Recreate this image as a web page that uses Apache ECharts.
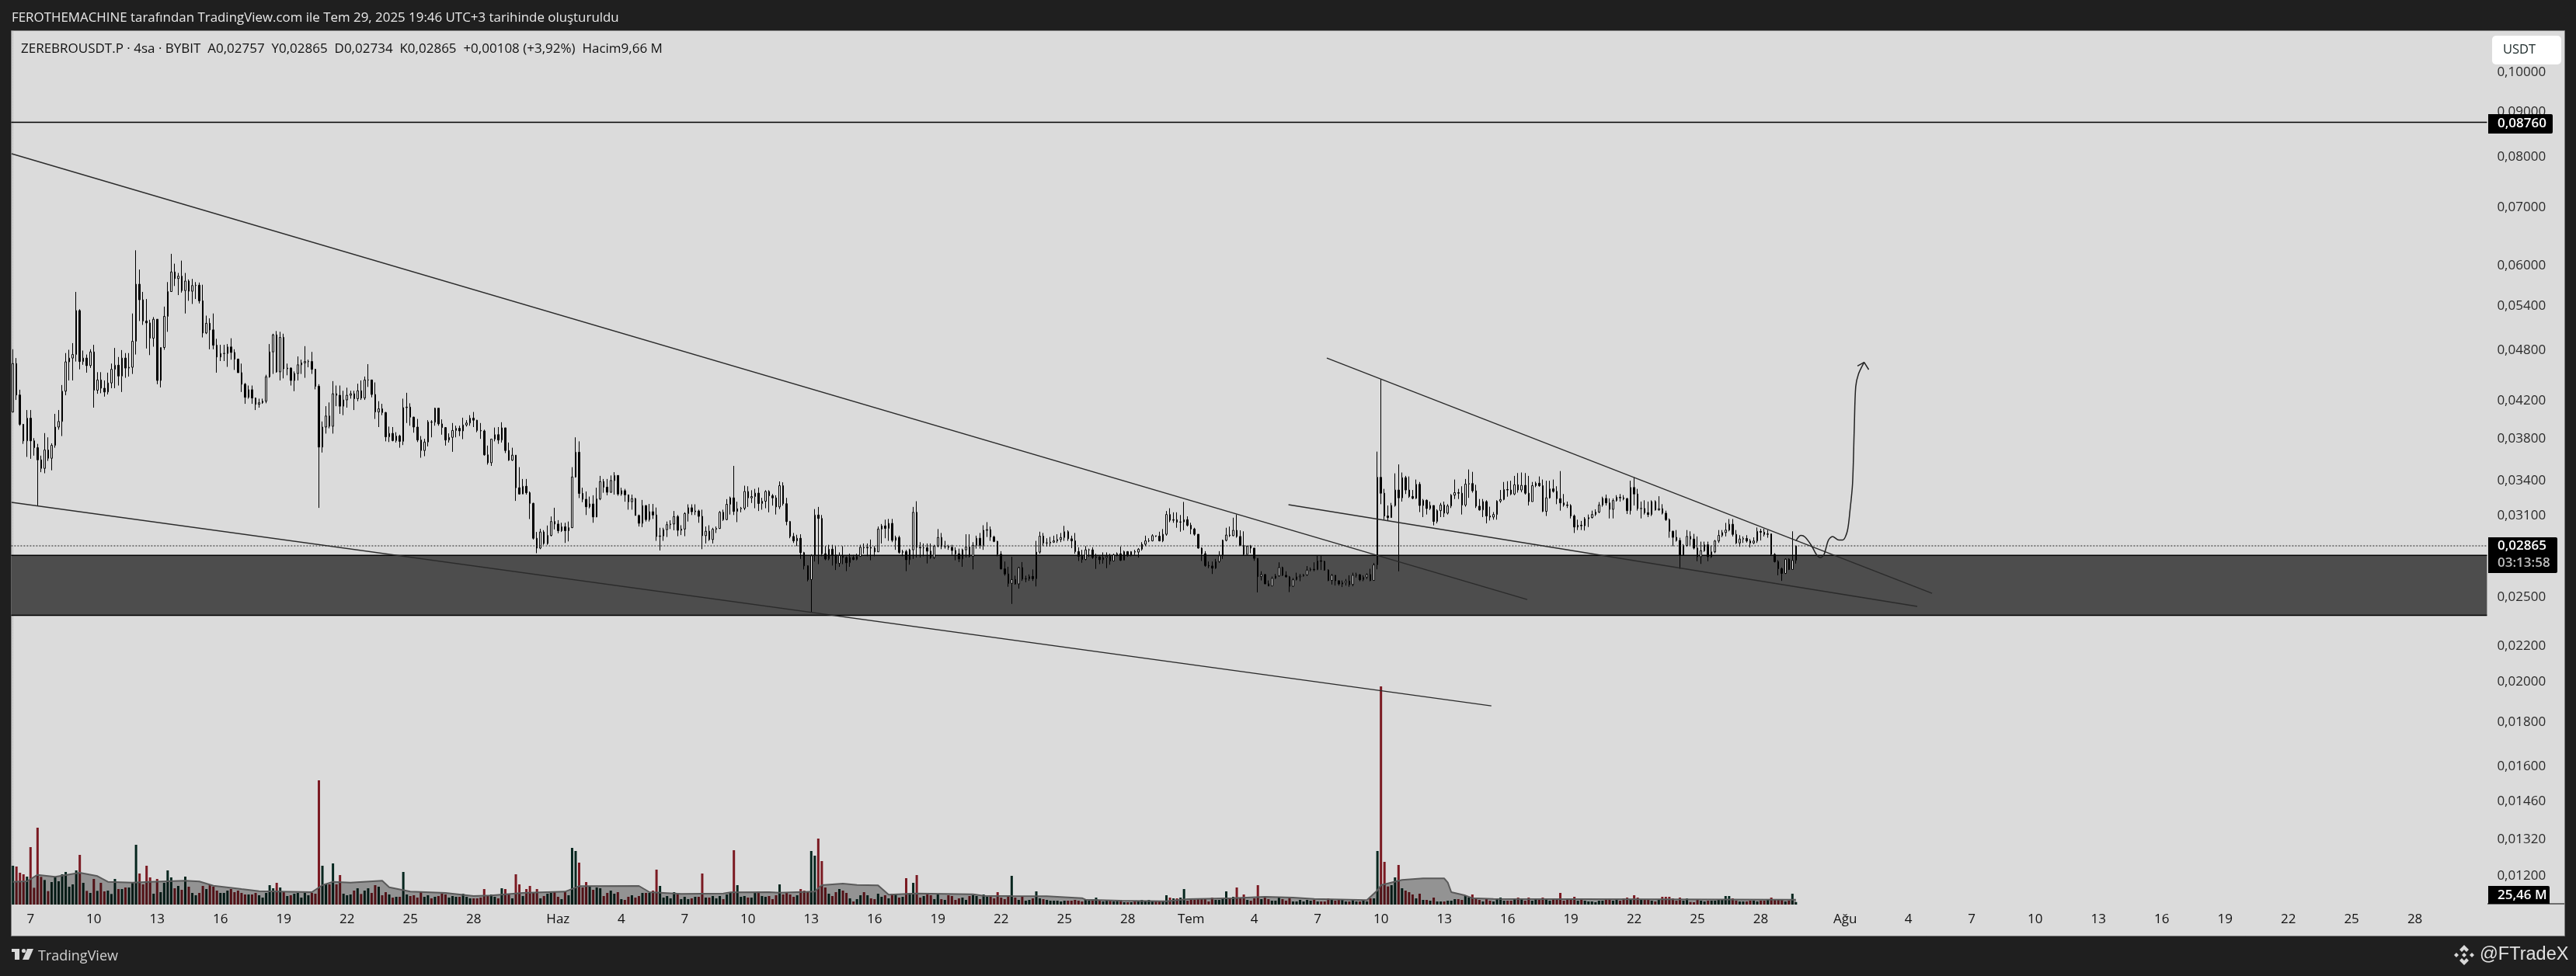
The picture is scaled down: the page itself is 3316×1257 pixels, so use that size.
<!DOCTYPE html>
<html><head><meta charset="utf-8"><style>html,body{margin:0;padding:0;background:#1f1f1f}#c{width:3316px;height:1257px}</style>
<script src="https://cdn.jsdelivr.net/npm/echarts@6/dist/echarts.min.js"></script></head><body><div id="c"></div>
<script>
// prices in units of 0.00001 USDT, volumes in millions
const firstOpen = 4079;
const closes = [
4635,4266,3948,3780,4013,3780,3712,3595,3515,3690,
3610,3735,3920,3978,4309,4656,4703,4747,5331,4660,
4703,4610,4780,4320,4439,4343,4300,4404,4565,4615,
4485,4703,4580,4590,4916,5715,5485,5186,5160,4956,
5210,4433,4836,5250,5605,5903,5800,5837,5620,5763,
5610,5695,5700,5470,5025,5155,5066,4865,4716,4760,
4760,4843,4773,4690,4525,4389,4240,4326,4232,4163,
4180,4197,4476,4780,5000,4534,4966,4572,4580,4433,
4515,4620,4644,4660,4660,4565,4365,3718,3920,4036,
3928,4280,4263,4142,4211,4263,4280,4225,4314,4232,
4439,4439,4272,4079,4113,4073,3820,3855,3783,3828,
3775,4126,4132,4024,3920,3788,3685,3768,3973,3970,
4120,3953,3915,3788,3815,3885,3907,3880,3942,3962,
4013,3992,3885,3880,3643,3568,3797,3842,3788,3912,
3685,3592,3640,3340,3285,3353,3296,3205,2923,2848,
2972,2883,2945,3055,3035,2982,3013,2982,3006,3436,
3668,3290,3240,3176,3200,3092,3243,3395,3345,3300,
3404,3450,3285,3314,3278,3219,3245,3104,3041,3186,
3071,3135,3108,2937,2941,2990,3030,3035,3095,2985,
2995,3120,3168,3135,3141,3097,2943,2978,2913,2993,
3000,3130,3071,3197,3252,3138,3160,3164,3307,3252,
3263,3293,3204,3223,3307,3270,3252,3175,3358,3202,
3055,2937,2903,2923,2814,2718,2621,2791,3108,3080,
2806,2768,2840,2797,2735,2793,2778,2740,2778,2764,
2787,2854,2850,2854,2848,2820,2995,3020,3000,3040,
2907,2929,2816,2822,2762,2835,3130,2854,2850,2850,
2825,2778,2863,2929,2860,2860,2854,2830,2806,2768,
2835,2856,2787,2869,2923,2869,2985,2990,2933,2899,
2802,2696,2660,2595,2621,2591,2705,2625,2627,2643,
2627,2818,2939,2887,2887,2893,2903,2913,2929,2974,
2919,2903,2822,2787,2764,2835,2835,2778,2783,2762,
2778,2787,2753,2797,2806,2758,2822,2791,2822,2818,
2840,2877,2903,2903,2943,2939,2903,2954,3112,3065,
3070,3050,3052,3070,3025,2995,2954,2848,2806,2720,
2717,2701,2749,2791,2907,2948,2943,2985,2937,2869,
2801,2862,2848,2772,2642,2656,2592,2577,2630,2646,
2706,2651,2640,2575,2620,2640,2646,2654,2688,2693,
2690,2754,2750,2688,2615,2651,2613,2591,2600,2610,
2587,2651,2654,2620,2638,2656,2615,2725,3433,3292,
3100,3087,3187,3320,3252,3430,3320,3264,3248,3370,
3187,3231,3162,3187,3056,3144,3191,3123,3183,3275,
3297,3292,3191,3372,3377,3313,3181,3150,3220,3100,
3091,3112,3224,3238,3324,3320,3285,3366,3320,3361,
3292,3220,3358,3380,3358,3138,3252,3330,3308,3245,
3209,3191,3187,3100,3011,3025,3021,3077,3087,3112,
3132,3191,3247,3209,3155,3229,3257,3252,3245,3144,
3342,3285,3162,3162,3127,3112,3220,3150,3160,3123,
3070,2977,2930,2906,2796,2868,2937,2917,2848,2784,
2829,2873,2784,2820,2902,2945,2967,2987,3033,2953,
2887,2917,2921,2902,2887,2902,2977,2970,2953,2957,
2801,2748,2697,2664,2766,2692,2757,2865];
const highs = [
4813,4703,4326,3953,4100,4100,3807,3750,3635,3858,
3815,3755,4059,4100,4380,4765,4807,4892,5600,5350,
4797,4747,4813,4870,4531,4531,4433,4525,4635,4830,
4716,4803,4765,4765,5290,6250,5940,5600,5496,5203,
5240,5210,4836,5387,5747,6192,6033,5887,6082,5887,
5787,5795,5747,5740,5707,5260,5223,5290,4948,4870,
4870,4880,4955,4813,4696,4635,4404,4374,4374,4238,
4225,4225,4500,4880,5015,5050,5040,5015,4635,4590,
4540,4723,4683,4853,4683,4780,4572,4389,3978,4142,
4183,4425,4374,4374,4314,4349,4314,4314,4395,4433,
4479,4628,4433,4410,4197,4168,4079,3925,3920,3867,
3842,4225,4291,4174,4029,4005,3828,3800,3992,3992,
4126,4120,4000,3920,3855,3962,3934,3934,4018,3992,
4045,4079,3995,3962,3893,3733,3800,3915,3920,3970,
3912,3763,3712,3640,3526,3418,3418,3307,3210,2972,
2997,2986,3023,3096,3168,3066,3045,3045,3055,3526,
3815,3775,3340,3307,3263,3274,3340,3446,3418,3418,
3450,3480,3450,3340,3330,3280,3280,3252,3112,3234,
3190,3200,3200,3170,3005,3005,3055,3065,3141,3108,
3025,3130,3197,3197,3197,3152,3152,3015,3025,3005,
3015,3141,3152,3241,3263,3538,3219,3175,3358,3353,
3318,3330,3342,3252,3318,3318,3285,3274,3396,3388,
3252,3060,2964,2950,2954,2820,2722,2802,3157,3175,
3108,2863,2873,2873,2863,2816,2863,2787,2806,2797,
2806,2873,2883,2883,2913,2863,3015,3035,3070,3076,
3076,2943,2943,2835,2835,2844,3175,3223,2893,2883,
2883,2883,2873,2995,2964,2903,2873,2873,2854,2844,
2844,2954,2954,2893,2943,2964,3025,3050,3015,2943,
2903,2825,2749,2711,2783,2648,2711,2745,2648,2657,
2692,2903,2974,2964,2923,2933,2943,2954,2964,3020,
2985,2943,2964,2854,2835,2863,2844,2854,2806,2787,
2816,2816,2806,2806,2816,2860,2829,2825,2825,2835,
2848,2893,2943,2923,2954,2943,2974,2995,3141,3164,
3130,3130,3108,3217,3097,3045,3005,2954,2854,2825,
2749,2749,2768,2825,2913,3005,3015,3086,3112,2985,
2977,2868,2872,2840,2772,2679,2660,2615,2642,2660,
2743,2712,2679,2646,2632,2669,2660,2660,2716,2706,
2743,2793,2790,2754,2693,2660,2632,2615,2615,2625,
2651,2669,2669,2660,2651,2664,2697,2738,3674,4446,
3330,3187,3209,3469,3552,3477,3446,3441,3320,3413,
3391,3242,3238,3220,3187,3155,3209,3220,3198,3285,
3413,3330,3353,3418,3505,3483,3366,3242,3242,3231,
3177,3132,3231,3320,3391,3398,3402,3446,3472,3477,
3472,3446,3391,3394,3441,3413,3402,3402,3413,3353,
3490,3285,3220,3198,3112,3070,3060,3091,3112,3144,
3155,3216,3262,3280,3247,3247,3275,3285,3275,3252,
3402,3433,3330,3220,3231,3220,3231,3231,3266,3198,
3144,3080,2983,2987,2927,2878,2987,2977,2957,2937,
2897,2897,2897,2868,2910,2987,2987,3044,3075,3075,
2987,2947,2937,2947,2917,2930,3007,2997,2997,2987,
2957,2810,2759,2706,2772,2772,2977,2865];
const lows = [
4073,4211,3934,3750,3623,3605,3635,3185,3480,3470,
3585,3497,3712,3893,3828,4263,4433,4433,4660,4565,
4620,4525,4582,4126,4280,4286,4248,4272,4343,4343,
4374,4300,4464,4479,4510,4747,5186,5133,4823,4740,
4846,4389,4352,4807,5040,5600,5688,5553,5590,5290,
5470,5425,5496,5432,4966,5010,4813,4813,4525,4666,
4666,4595,4683,4558,4525,4300,4168,4225,4168,4100,
4126,4168,4174,4464,4510,4525,4433,4457,4494,4374,
4309,4433,4510,4464,4590,4510,4330,3167,3665,3853,
3907,3853,4142,4059,4045,4126,4225,4100,4197,4211,
4211,4358,4240,4005,3920,4045,3775,3768,3775,3763,
3712,3738,3962,3934,3862,3768,3615,3630,3725,3815,
3934,3934,3842,3733,3763,3672,3815,3828,3797,3925,
3934,3920,3867,3800,3635,3550,3538,3775,3750,3763,
3660,3585,3585,3226,3280,3285,3280,3075,2913,2810,
2840,2873,2873,2937,2992,2962,2972,2887,2899,3002,
3430,3250,3215,3108,3163,3045,3090,3232,3296,3274,
3296,3280,3270,3270,3219,3152,3152,3104,3015,3010,
3055,3055,3076,2903,2830,2903,2933,2995,2985,2939,
2948,2939,3055,3108,3108,3045,2840,2883,2903,2883,
2964,2995,3060,3065,3112,3108,3050,3130,3148,3175,
3208,3164,3141,3152,3164,3130,3186,3112,3157,3186,
3025,2923,2887,2863,2768,2692,2609,2407,2749,2730,
2787,2758,2758,2720,2688,2711,2730,2680,2711,2758,
2758,2783,2806,2787,2758,2787,2820,2883,2923,2903,
2893,2835,2806,2787,2680,2726,2768,2778,2778,2787,
2735,2768,2768,2854,2840,2844,2835,2797,2758,2745,
2711,2778,2778,2692,2844,2844,2835,2933,2903,2893,
2787,2692,2648,2572,2458,2586,2559,2612,2603,2612,
2612,2574,2806,2863,2860,2860,2887,2887,2893,2903,
2903,2848,2806,2753,2740,2758,2783,2768,2696,2730,
2734,2701,2726,2753,2787,2753,2758,2783,2787,2797,
2778,2829,2863,2893,2899,2933,2899,2893,2943,3050,
3045,3005,2974,2985,3015,2954,2943,2844,2753,2711,
2701,2660,2696,2740,2768,2899,2933,2939,2927,2863,
2790,2801,2810,2754,2534,2615,2589,2577,2577,2625,
2642,2646,2635,2536,2572,2615,2610,2642,2646,2679,
2679,2688,2688,2683,2610,2587,2580,2580,2570,2580,
2572,2575,2635,2610,2610,2625,2610,2615,2693,3198,
3070,3063,3085,3177,2679,3220,3285,3252,3240,3242,
3132,3091,3112,3150,3024,3040,3091,3091,3112,3166,
3242,3242,3112,3177,3252,3297,3166,3144,3091,3040,
3063,3070,3070,3209,3231,3262,3275,3275,3297,3300,
3280,3187,3220,3345,3348,3132,3100,3245,3297,3198,
3144,3177,3166,3080,2964,2987,2987,2983,3011,3080,
3100,3123,3177,3187,3080,3080,3220,3220,3231,3116,
3112,3187,3144,3080,3112,3091,3100,3144,3144,3112,
3060,2927,2862,2897,2697,2790,2858,2868,2838,2751,
2732,2820,2751,2775,2810,2887,2932,2937,2977,2937,
2878,2858,2887,2890,2852,2878,2887,2906,2937,2927,
2790,2742,2651,2612,2660,2688,2693,2734];
const volumes = [
150,147,123,117,108,222,65,297,107,95,
52,87,105,90,117,126,69,78,132,192,
84,53,45,99,53,84,51,54,41,99,
60,60,66,66,87,231,120,78,150,105,
42,99,48,84,132,105,63,72,57,108,
69,45,36,45,72,60,77,69,54,45,
45,54,60,48,54,45,39,39,39,45,
36,27,45,75,63,84,66,51,33,36,
42,45,27,45,36,45,42,480,150,78,
78,159,78,114,42,36,39,54,63,41,
54,63,45,75,69,36,48,39,27,30,
30,126,39,33,36,27,51,30,36,24,
30,33,42,39,27,33,30,30,42,30,
24,24,24,27,60,36,39,30,24,63,
60,39,24,117,78,33,60,72,48,60,
24,33,42,45,48,30,21,48,36,219,
207,162,66,87,72,57,66,63,33,45,
54,42,48,21,18,30,36,27,33,45,
45,45,54,135,72,27,33,24,48,39,
21,30,21,24,30,30,120,27,27,33,
24,33,21,39,45,210,75,30,33,27,
27,45,51,33,30,33,21,36,78,39,
45,39,30,36,60,54,51,207,189,255,
168,66,42,33,48,60,54,45,24,12,
21,36,48,36,24,21,42,30,36,24,
42,42,27,30,102,45,84,114,27,33,
39,36,21,42,21,18,36,33,18,24,
27,18,33,36,33,21,39,30,30,24,
48,27,21,30,111,27,18,30,15,18,
24,51,24,21,18,15,15,15,12,15,
15,15,18,15,12,18,15,15,27,15,
12,15,15,12,18,18,9,9,9,12,
12,18,12,18,12,12,12,12,36,27,
24,24,27,60,15,18,18,21,24,21,
12,27,18,18,21,51,24,30,66,27,
39,18,15,24,75,21,30,21,15,15,
27,21,15,24,12,12,18,12,18,15,
18,12,12,12,24,21,15,21,18,12,
12,21,12,12,15,12,24,24,207,843,
165,70,75,105,153,63,54,48,39,24,
42,18,18,15,27,12,12,12,15,15,
21,21,18,33,27,39,24,18,12,21,
15,12,21,27,15,15,15,21,27,24,
15,27,15,24,18,27,24,15,21,21,
45,15,21,18,30,15,18,15,12,12,
9,15,15,18,21,15,18,15,24,27,
18,36,27,20,18,18,15,12,18,30,
30,30,24,15,27,15,24,10,9,21,
15,12,15,15,15,18,18,33,33,24,
15,12,12,12,15,15,12,15,15,18,
27,21,18,18,12,15,42,9.66];
// grey volume average: [bar number, value]
const volumeAverage = [[0,88],[4,90],[7,115],[12,107],[19,123],[24,110],[27,88],[34,85],[39,88],[49,92],[53,89],[57,73],[65,60],[70,52],[85,48],[88,75],[91,88],[96,85],[105,92],[107,67],[113,50],[123,45],[131,33],[136,35],[145,45],[157,50],[161,71],[178,72],[181,48],[190,41],[202,43],[204,47],[215,48],[218,46],[228,50],[230,75],[236,81],[240,76],[246,74],[249,38],[257,43],[273,40],[276,34],[284,33],[294,32],[304,25],[305,19],[315,15],[328,13],[334,21],[347,25],[356,30],[364,27],[370,22],[385,17],[388,55],[389,75],[395,95],[401,101],[407,101],[408,85],[409,48],[413,35],[415,25],[421,22],[470,20],[506,19],[507,19]];
const priceTicks = [0.1,0.09,0.08,0.07,0.06,0.054,0.048,0.042,0.038,0.034,0.031,0.025,0.022,0.02,0.018,0.016,0.0146,0.0132,0.012];
const tickDates = ["05-07","05-10","05-13","05-16","05-19","05-22","05-25","05-28","06-01","06-04","06-07","06-10","06-13","06-16","06-19","06-22","06-25","06-28","07-01","07-04","07-07","07-10","07-13","07-16","07-19","07-22","07-25","07-28","08-01","08-04","08-07","08-10","08-13","08-16","08-19","08-22","08-25","08-28"];
const tickLabels = ["7","10","13","16","19","22","25","28","Haz","4","7","10","13","16","19","22","25","28","Tem","4","7","10","13","16","19","22","25","28","Ağu","4","7","10","13","16","19","22","25","28"];
const resistance = 0.0876;
const lastPrice = 0.02865;
const zoneHigh = 0.02794, zoneLow = 0.02385;
const trendA = [[-0.37,0.08064],[430.6,0.02487]];
const trendB = [[-0.37,0.03213],[420.4,0.01878]];
const trendC = [[373.6,0.04704],[545.7,0.02528]];
const trendD = [[362.7,0.03194],[541.5,0.02442]];
const projection = [[507,0.02903],[508.4,0.02945],[509.6,0.02932],[511.4,0.02868],[512.8,0.02801],[514,0.02777],[515,0.02801],[516.2,0.02906],[517.4,0.02937],[519.2,0.02910],[520.3,0.02910],[521.6,0.02977],[522.4,0.03154],[523.1,0.03377],[523.6,0.03923],[524,0.04360],[524.8,0.04510],[526.4,0.04650]];
const arrowHead = [[524.5,0.04605],[526.4,0.04650],[527.7,0.04562]];

const SLOTS = 704;
const categories = [];
{ const t0 = Date.UTC(2025,4,6,4);
  for (let i=0;i<SLOTS;i++){ const d=new Date(t0+i*4*3600e3);
    const p=n=>String(n).padStart(2,'0');
    const h=d.getUTCHours();
    categories.push(h===0 ? p(d.getUTCMonth()+1)+'-'+p(d.getUTCDate()) : p(d.getUTCMonth()+1)+'-'+p(d.getUTCDate())+' '+p(h)); } }
const tickMap = {}; tickDates.forEach((d,i)=>tickMap[d]=tickLabels[i]);

const candleData = closes.map((c,i)=>[(i?closes[i-1]:firstOpen)/1e5,c/1e5,lows[i]/1e5,highs[i]/1e5]);
const volData = volumes.map((v,i)=>({value:v,itemStyle:{color:candleData[i][1]>=candleData[i][0]?'#04261e':'#7b1a22'}}));

const XMAX = SLOTS-0.5;
const lineSeries = (name,data,style,extra)=>Object.assign({name,type:'line',xAxisIndex:1,yAxisIndex:0,data,showSymbol:false,symbol:'none',silent:true,z:6,lineStyle:style},extra||{});

const T = (x,y,text,size,color,extra)=>({type:'text',z:100,silent:true,style:Object.assign({x,y,text,fontSize:size,fontFamily:'"Open Sans"',fill:color,textVerticalAlign:'middle',verticalAlign:'middle'},extra||{})});
const R = (x,y,w,h,fill,extra)=>({type:'rect',z:99,silent:true,shape:Object.assign({x,y,width:w,height:h},extra&&extra.r?{r:extra.r}:{}),style:{fill}});
const P = (points,fill)=>({type:'polygon',z:100,silent:true,shape:{points},style:{fill}});

const chart = echarts.init(document.getElementById('c'),null,{renderer:'canvas',width:3316,height:1257,devicePixelRatio:1});
chart.setOption({
 animation:false,backgroundColor:'#1f1f1f',
 grid:{left:14.4,top:40,width:3187,height:1125,containLabel:false},
 xAxis:[
  {type:'category',data:categories,boundaryGap:true,axisLine:{show:false},axisTick:{show:false},splitLine:{show:false},
   axisLabel:{interval:(i,v)=>v in tickMap,formatter:v=>tickMap[v]||'',color:'#111',fontFamily:'"Open Sans"',fontSize:17,margin:11,hideOverlap:false}},
  {type:'value',min:-0.5,max:XMAX,show:false}
 ],
 yAxis:[
  {type:'log',logBase:10,min:0.011117,max:0.11147,position:'right',
   axisLine:{show:true,lineStyle:{color:'#b5b5b5',type:'dotted',width:1}},axisTick:{show:false},splitLine:{show:false},minorTick:{show:false},minorSplitLine:{show:false},
   axisLabel:{customValues:priceTicks,formatter:v=>Number(v).toFixed(5).replace('.',','),color:'#2a2a2a',fontFamily:'"Open Sans"',fontSize:17,margin:13,align:'left',showMinLabel:true,showMaxLabel:true}},
  {type:'value',min:0,max:3375,show:false}
 ],
 series:[
  lineSeries('zone',[[-0.5,zoneHigh],[XMAX,zoneHigh]],{width:1.5,color:'#000'},{z:1,markArea:{silent:true,itemStyle:{color:'#4d4d4d'},data:[[{xAxis:-0.5,yAxis:zoneHigh},{xAxis:XMAX,yAxis:zoneLow}]]}}),
  lineSeries('zoneBottom',[[-0.5,zoneLow],[XMAX,zoneLow]],{width:1.5,color:'#000'},{z:1}),
  {name:'volume',type:'bar',xAxisIndex:0,yAxisIndex:1,data:volData,barWidth:3,z:2,silent:true},
  lineSeries('volumeAverage',volumeAverage,{color:'#5a5a5a',width:2},{yAxisIndex:1,z:3,areaStyle:{color:'rgba(0,0,0,0.47)',origin:'start'}}),
  {name:'price',type:'candlestick',xAxisIndex:0,yAxisIndex:0,data:candleData,barWidth:2,z:4,silent:true,
   itemStyle:{color:'#fff',color0:'#000',borderColor:'#000',borderColor0:'#000',borderWidth:1}},
  lineSeries('resistance',[[-0.5,resistance],[XMAX,resistance]],{color:'#000',width:1.5}),
  lineSeries('last',[[-0.5,lastPrice],[XMAX,lastPrice]],{color:'#222',width:1,type:[2,2]}),
  lineSeries('trendA',trendA,{color:'#2b2b2b',width:1.4}),
  lineSeries('trendB',trendB,{color:'#2b2b2b',width:1.4}),
  lineSeries('trendC',trendC,{color:'#2b2b2b',width:1.4}),
  lineSeries('trendD',trendD,{color:'#2b2b2b',width:1.4}),
  lineSeries('projection',projection,{color:'#222',width:1.5},{smooth:0.3}),
  lineSeries('arrow',arrowHead,{color:'#222',width:1.5})
 ],
 graphic:[
  {type:'rect',z:-10,silent:true,shape:{x:14.5,y:39.5,width:3287,height:1166},style:{fill:'#dbdbdb',stroke:'#7f7f7f',lineWidth:1}},
  T(15,23,'FEROTHEMACHINE tarafından TradingView.com ile Tem 29, 2025 19:46 UTC+3 tarihinde oluşturuldu',16.9,'#e8e8e8'),
  T(27,63.5,'ZEREBROUSDT.P · 4sa · BYBIT  A0,02757  Y0,02865  D0,02734  K0,02865  +0,00108 (+3,92%)  Hacim9,66 M',17,'#111'),
  R(3208,46,89,37,'#ffffff',{r:5}),
  T(3222,64.5,'USDT',16.5,'#1c2a2a'),
  R(3203,147,83,25,'#000',{r:[0,2,2,0]}),
  T(3215,159,'0,08760',17,'#fff',{fontWeight:600}),
  R(3203,692,89,46,'#000',{r:[0,2,2,0]}),
  T(3215,703.5,'0,02865',17,'#fff',{fontWeight:600}),
  T(3215,725,'03:13:58',17,'#bdbdbd',{fontWeight:600}),
  R(3203,1141,79,23,'#000',{r:[0,2,0,0]}),
  T(3215,1153,'25,46 M',17,'#fff',{fontWeight:600}),
  R(3202,1163.5,99,1,'#000'),
  // footer
  R(15,1222,10,4,'#d8d8d8'),R(19,1222,6,14,'#d8d8d8'),
  {type:'circle',z:100,silent:true,shape:{cx:30.5,cy:1224.5,r:2.6},style:{fill:'#d8d8d8'}},
  P([[35,1222],[43,1222],[37,1236],[29,1236]],'#d8d8d8'),
  T(49,1232,'TradingView',18,'#d0d0d0'),
  T(3192,1230,'@FTradeX',23.5,'#e2e2e2',{fontFamily:'"Liberation Sans"'}),
  P([[3172,1217],[3178,1223],[3175,1226],[3172,1223],[3169,1226],[3166,1223]],'#d8d8d8'),
  P([[3172,1243],[3178,1237],[3175,1234],[3172,1237],[3169,1234],[3166,1237]],'#d8d8d8'),
  P([[3159,1230],[3162,1227],[3165,1230],[3162,1233]],'#d8d8d8'),
  P([[3179,1230],[3182,1227],[3185,1230],[3182,1233]],'#d8d8d8'),
  P([[3172,1227],[3175,1230],[3172,1233],[3169,1230]],'#d8d8d8')
 ]
});
</script></body></html>
